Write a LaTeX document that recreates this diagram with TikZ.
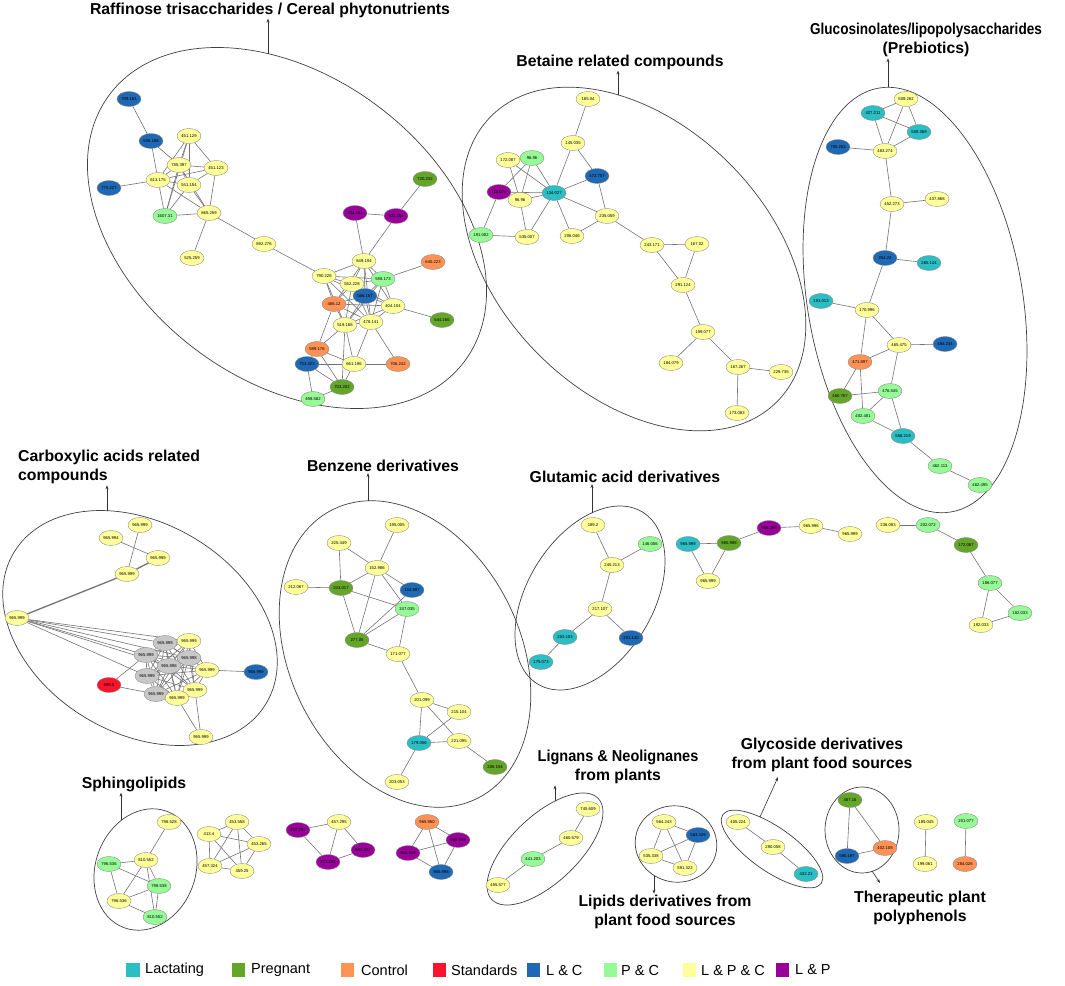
\documentclass[tikz,border=0pt]{standalone}
\usepackage{fontspec}
\setmainfont{Liberation Sans}
\usetikzlibrary{shapes.geometric,arrows.meta,backgrounds}

% 分组颜色
\definecolor{lacC}{RGB}{43,190,196}
\definecolor{pregC}{RGB}{99,166,41}
\definecolor{ctrlC}{RGB}{255,146,84}
\definecolor{stdC}{RGB}{250,20,45}
\definecolor{lcC}{RGB}{30,104,180}
\definecolor{pcC}{RGB}{150,250,150}
\definecolor{lpcC}{RGB}{255,255,153}
\definecolor{lpC}{RGB}{153,0,153}
\definecolor{gryC}{RGB}{200,200,200}

\begin{document}
\begin{tikzpicture}[x=1pt,y=-1pt,
	mol/.style={ellipse,draw=black!45,line width=0.4pt,minimum width=24pt,minimum height=15pt,inner sep=0pt,font=\fontsize{4.2}{5}\selectfont},
	lac/.style={mol,fill=lacC},
	preg/.style={mol,fill=pregC},
	ctrl/.style={mol,fill=ctrlC},
	std/.style={mol,fill=stdC},
	lc/.style={mol,fill=lcC},
	pc/.style={mol,fill=pcC},
	lpc/.style={mol,fill=lpcC},
	lp/.style={mol,fill=lpC},
	gry/.style={mol,fill=gryC},
	link/.style={draw=black!55,line width=0.6pt},
	grp/.style={draw=black!75,line width=0.7pt},
	ttl/.style={font=\fontsize{15.8}{19.5}\selectfont\bfseries,align=center,inner sep=1pt},
	toarrow/.style={-{Stealth[length=4pt,width=3pt]},line width=0.6pt,draw=black!80},
	legsq/.style={minimum size=13.5pt,inner sep=0pt},
	legtx/.style={anchor=west,font=\fontsize{14.5}{17}\selectfont,inner sep=0pt}]
	
	\useasboundingbox (0,0) rectangle (1065,985);
	
	% 分组轮廓
	\draw[grp,rotate around={-37:(287,228)}] (287,228) ellipse [x radius=222,y radius=152];
	\draw[grp,rotate around={-45:(634,259)}] (634,259) ellipse [x radius=202,y radius=135];
	\draw[grp,rotate around={-80.35:(915,300)}] (915,300) ellipse [x radius=215,y radius=107.5];
	\draw[grp,rotate around={-30.8:(140,628)}] (140,628) ellipse [x radius=147,y radius=105];
	\draw[grp,rotate around={-63.3:(405,654)}] (405,654) ellipse [x radius=161.5,y radius=115];
	\draw[grp,rotate around={58.6:(590,598)}] (590,598) ellipse [x radius=100.7,y radius=62.8];
	\draw[grp,rotate around={-20:(145.5,869.5)}] (145.5,869.5) ellipse [x radius=50,y radius=62];
	\draw[grp,rotate around={43.5:(545,849)}] (545,849) ellipse [x radius=73.4,y radius=33.4];
	\draw[grp,rotate around={-15:(676,844)}] (676,844) ellipse [x radius=41,y radius=38];
	\draw[grp,rotate around={-35:(772,849)}] (772,849) ellipse [x radius=60,y radius=22];
	\draw[grp] (862,830) ellipse [x radius=37,y radius=43];
	
	% 标题
	\node[ttl] (rafT) at (270,10) {Raffinose trisaccharides / Cereal phytonutrients};
	\node[ttl] (betT) at (620,62) {Betaine related compounds};
	\node[ttl] (gluT) at (926,40) {\scalebox{0.86}[1]{Glucosinolates/lipopolysaccharides}\\(Prebiotics)};
	\node[ttl,align=left,anchor=west] (carT) at (17,467) {Carboxylic acids related\\compounds};
	\node[ttl] (benT) at (383,466) {Benzene derivatives};
	\node[ttl] (gltT) at (625,477) {Glutamic acid derivatives};
	\node[ttl] (sphT) at (134,784) {Sphingolipids};
	\node[ttl] (ligT) at (618,767) {\scalebox{0.92}[1]{Lignans \& Neolignanes}\\from plants};
	\node[ttl] (glyT) at (822,755) {Glycoside derivatives\\from plant food sources};
	\node[ttl] (lipT) at (665,912) {Lipids derivatives from\\plant food sources};
	\node[ttl] (thrT) at (920,908) {Therapeutic plant\\polyphenols};
	
	% 箭头起点
	\coordinate (rafA) at (268,54);
	\coordinate (betA) at (618,95);
	\coordinate (gluA) at (888,87);
	\coordinate (carA) at (107,511);
	\coordinate (benA) at (368,501);
	\coordinate (gltA) at (592,513);
	\coordinate (sphA) at (121,820);
	\coordinate (ligA) at (555,801);
	\coordinate (lipA) at (654,876);
	\coordinate (glyA) at (760,817);
	\coordinate (glyB) at (778,777);
	\coordinate (thrA) at (872,871);
	\coordinate (thrB) at (880,883);
	
	\draw[toarrow] (rafA) -- (rafA |- rafT.south);
	\draw[toarrow] (betA) -- (betA |- betT.south);
	\draw[toarrow] (gluA) -- (gluA |- gluT.south);
	\draw[toarrow] (carA) -- (carA |- carT.south);
	\draw[toarrow] (benA) -- (benA |- benT.south);
	\draw[toarrow] (gltA) -- (gltA |- gltT.south);
	\draw[toarrow] (sphA) -- (sphA |- sphT.south);
	\draw[toarrow] (ligA) -- (ligA |- ligT.south);
	\draw[toarrow] (lipA) -- (lipA |- lipT.north);
	\draw[toarrow] (glyA) -- (glyB);
	\draw[toarrow] (thrA) -- (thrB);
	
	% Raffinose
	\node[lc] (r1) at (129,99) {709.181};
	\node[lc] (r2) at (151,141) {536.188};
	\node[lpc] (r3) at (189,136) {451.129};
	\node[lpc] (r4) at (179,165) {785.397};
	\node[lpc] (r5) at (216,168) {451.123};
	\node[lpc] (r6) at (158,180) {613.175};
	\node[lpc] (r7) at (189,185) {541.154};
	\node[lc] (r8) at (109,188) {775.227};
	\node[pc] (r9) at (165,216) {1607.31};
	\node[lpc] (r10) at (209,213) {865.259};
	\node[lpc] (r11) at (192,258) {525.259};
	\node[lpc] (r12) at (264,244) {892.276};
	\node[lpc] (r13) at (324,276) {790.226};
	\node[preg] (r14) at (425,179) {720.232};
	\node[lp] (r15) at (355,213) {704.851};
	\node[lp] (r16) at (396,216) {702.251};
	\node[lpc] (r17) at (364,261) {849.194};
	\node[ctrl] (r18) at (433,262) {645.223};
	\node[lpc] (r19) at (352,284) {552.228};
	\node[pc] (r20) at (383,279) {598.173};
	\node[lc] (r21) at (365,296) {566.157};
	\node[ctrl] (r22) at (334,304) {486.12};
	\node[lpc] (r23) at (393,306) {404.104};
	\node[preg] (r24) at (442,320) {544.166};
	\node[lpc] (r25) at (345,325) {519.168};
	\node[lpc] (r26) at (371,322) {478.141};
	\node[ctrl] (r27) at (317,349) {589.176};
	\node[lc] (r28) at (307,364) {703.323};
	\node[lpc] (r29) at (354,364) {661.196};
	\node[ctrl] (r30) at (398,364) {706.242};
	\node[preg] (r31) at (342,387) {703.202};
	\node[pc] (r32) at (313,399) {498.582};
	
	% Betaine
	\node[lpc] (b1) at (588,99) {185.04};
	\node[lpc] (b2) at (573,143) {145.035};
	\node[lpc] (b3) at (508,160) {172.087};
	\node[pc] (b4) at (532,158) {96.96};
	\node[lp] (b5) at (499,192) {110.076};
	\node[lpc] (b6) at (520,200) {96.96};
	\node[lac] (b7) at (554,193) {134.027};
	\node[lc] (b8) at (597,176) {472.757};
	\node[lpc] (b9) at (607,216) {235.059};
	\node[pc] (b10) at (481,235) {191.002};
	\node[lpc] (b11) at (527,237) {535.007};
	\node[lpc] (b12) at (572,236) {206.046};
	\node[lpc] (b13) at (652,245) {243.171};
	\node[lpc] (b14) at (697,244) {167.02};
	\node[lpc] (b15) at (683,285) {291.124};
	\node[lpc] (b16) at (703,332) {159.077};
	\node[lpc] (b17) at (671,363) {184.079};
	\node[lpc] (b18) at (738,367) {167.267};
	\node[lpc] (b19) at (781,372) {229.735};
	\node[lpc] (b20) at (737,413) {173.083};
	
	% Glucosinolates
	\node[lpc] (g1) at (906,99) {509.282};
	\node[lac] (g2) at (873,113) {427.211};
	\node[lac] (g3) at (919,132) {509.369};
	\node[lc] (g4) at (838,147) {705.253};
	\node[lpc] (g5) at (885,151) {483.274};
	\node[lpc] (g6) at (892,204) {452.273};
	\node[lpc] (g7) at (937,199) {437.868};
	\node[lc] (g8) at (885,258) {254.22};
	\node[lac] (g9) at (929,263) {265.144};
	\node[lac] (g10) at (821,301) {191.013};
	\node[lpc] (g11) at (867,310) {170.996};
	\node[lpc] (g12) at (899,345) {465.475};
	\node[lc] (g13) at (945,344) {484.234};
	\node[ctrl] (g14) at (860,362) {471.897};
	\node[preg] (g15) at (840,396) {460.767};
	\node[pc] (g16) at (890,391) {476.545};
	\node[pc] (g17) at (863,416) {482.481};
	\node[lac] (g18) at (903,436) {556.219};
	\node[pc] (g19) at (940,466) {462.113};
	\node[pc] (g20) at (980,485) {462.495};
	
	% Carboxylic acids
	\node[lpc] (c1) at (140,525) {965.999};
	\node[lpc] (c2) at (111,538) {965.994};
	\node[lpc] (c3) at (158,558) {965.999};
	\node[lpc] (c4) at (127,574) {965.999};
	\node[lpc] (c5) at (17,618) {965.999};
	\node[gry] (c6) at (165,643) {965.999};
	\node[lpc] (c7) at (189,641) {965.999};
	\node[gry] (c8) at (146,655) {965.999};
	\node[gry] (c9) at (189,658) {965.998};
	\node[gry] (c10) at (169,666) {965.898};
	\node[lpc] (c11) at (207,670) {965.999};
	\node[lc] (c12) at (256,672) {965.999};
	\node[gry] (c13) at (147,676) {965.999};
	\node[std] (c14) at (109,685) {999.0};
	\node[gry] (c15) at (156,694) {965.999};
	\node[lpc] (c16) at (195,690) {965.999};
	\node[lpc] (c17) at (177,698) {965.999};
	\node[lpc] (c18) at (201,737) {965.999};
	
	% Benzene
	\node[lpc] (z1) at (397,525) {195.005};
	\node[lpc] (z2) at (339,543) {225.449};
	\node[lpc] (z3) at (377,568) {152.986};
	\node[lpc] (z4) at (296,587) {212.067};
	\node[preg] (z5) at (341,588) {243.017};
	\node[lc] (z6) at (412,590) {134.997};
	\node[pc] (z7) at (407,609) {247.035};
	\node[preg] (z8) at (357,640) {277.05};
	\node[lpc] (z9) at (398,654) {171.077};
	\node[lpc] (z10) at (422,700) {201.099};
	\node[lpc] (z11) at (459,712) {215.104};
	\node[lac] (z12) at (419,743) {179.056};
	\node[lpc] (z13) at (459,741) {221.095};
	\node[preg] (z14) at (495,767) {205.104};
	\node[lpc] (z15) at (397,782) {203.053};
	
	% Glutamic
	\node[lpc] (u1) at (593,525) {189.2};
	\node[pc] (u2) at (650,544) {146.056};
	\node[lpc] (u3) at (612,565) {245.213};
	\node[lpc] (u4) at (600,609) {217.107};
	\node[lac] (u5) at (565,637) {203.103};
	\node[lc] (u6) at (631,638) {201.130};
	\node[lac] (u7) at (541,662) {175.073};
	
	% 中间小网络
	\node[lac] (m1) at (688,544) {965.999};
	\node[preg] (m2) at (729,543) {965.998};
	\node[lpc] (m3) at (708,581) {965.999};
	\node[lp] (m4) at (769,528) {965.269};
	\node[lpc] (m5) at (811,526) {965.996};
	\node[lpc] (m6) at (850,534) {965.999};
	
	\node[lpc] (n1) at (888,525) {236.083};
	\node[pc] (n2) at (928,525) {202.072};
	\node[preg] (n3) at (966,545) {172.087};
	\node[pc] (n4) at (990,583) {186.077};
	\node[pc] (n5) at (1020,613) {182.033};
	\node[lpc] (n6) at (981,625) {192.033};
	
	% Sphingolipids
	\node[lpc] (s1) at (169,822) {796.528};
	\node[lpc] (s2) at (146,860) {810.552};
	\node[pc] (s3) at (109,864) {796.536};
	\node[pc] (s4) at (159,886) {798.538};
	\node[lpc] (s5) at (119,901) {796.536};
	\node[pc] (s6) at (155,917) {810.552};
	
	\node[lpc] (f1) at (209,834) {413.4};
	\node[lpc] (f2) at (237,822) {453.558};
	\node[lpc] (f3) at (259,844) {453.265};
	\node[lpc] (f4) at (210,866) {457.324};
	\node[lpc] (f5) at (242,871) {459.25};
	
	\node[lp] (p1) at (298,830) {457.283};
	\node[lpc] (p2) at (339,822) {457.295};
	\node[lp] (p3) at (363,850) {581.332};
	\node[lp] (p4) at (328,862) {471.294};
	
	\node[ctrl] (q1) at (427,822) {965.950};
	\node[lp] (q2) at (458,840) {965.999};
	\node[lp] (q3) at (408,853) {965.939};
	\node[lc] (q4) at (441,872) {965.998};
	
	% Lignans, Lipids, Glycoside, Therapeutic
	\node[lpc] (l1) at (588,809) {745.609};
	\node[lpc] (l2) at (571,838) {460.579};
	\node[pc] (l3) at (533,859) {441.203};
	\node[lpc] (l4) at (498,885) {455.577};
	
	\node[lpc] (d1) at (664,822) {564.243};
	\node[lc] (d2) at (698,835) {563.329};
	\node[lpc] (d3) at (651,856) {535.338};
	\node[lpc] (d4) at (685,868) {591.322};
	
	\node[lpc] (y1) at (738,822) {405.224};
	\node[lpc] (y2) at (773,847) {290.058};
	\node[lac] (y3) at (806,874) {432.21};
	
	\node[preg] (t1) at (850,800) {487.16};
	\node[ctrl] (t2) at (885,848) {402.108};
	\node[lc] (t3) at (847,856) {580.197};
	
	\node[lpc] (v1) at (926,822) {185.045};
	\node[lpc] (v2) at (925,864) {199.061};
	\node[pc] (v3) at (966,821) {201.077};
	\node[ctrl] (v4) at (965,864) {284.026};
	
	% 连线
	\begin{scope}[on background layer]
		\foreach \a/\b in {r1/r2,r2/r6,r2/r4,r8/r6,r3/r4,r3/r5,r3/r7,r3/r6,r3/r9,r4/r5,r4/r6,r4/r7,r4/r9,r4/r10,
			r5/r6,r5/r7,r5/r10,r6/r7,r6/r9,r6/r10,r7/r9,r7/r10,r9/r10,r10/r11,r10/r12,r12/r13,
			r14/r16,r15/r16,r15/r17,r16/r17,r17/r13,r17/r19,r17/r20,r17/r21,r17/r22,r17/r23,r17/r26,r20/r18,
			r13/r19,r13/r20,r13/r21,r13/r22,r13/r25,r13/r26,r19/r20,r19/r21,r19/r22,r19/r23,r19/r25,r19/r26,
			r20/r21,r20/r23,r20/r25,r20/r26,r21/r22,r21/r23,r21/r25,r21/r26,r22/r23,r22/r25,r22/r26,r22/r27,
			r23/r24,r23/r25,r23/r26,r25/r26,r25/r27,r25/r29,r25/r31,r26/r29,r26/r30,r27/r28,r27/r29,r27/r31,
			r28/r29,r28/r31,r28/r32,r29/r30,r29/r31,r31/r32}
		\draw[link] (\a) -- (\b);
		
		\foreach \a/\b in {b1/b2,b2/b7,b2/b8,b3/b6,b3/b7,b4/b5,b4/b6,b4/b7,b5/b7,b5/b10,b6/b7,b6/b11,
			b7/b11,b7/b12,b7/b8,b7/b9,b8/b9,b12/b9,b10/b11,b9/b13,b13/b14,b13/b15,b14/b15,b15/b16,
			b16/b17,b16/b18,b18/b19,b18/b20}
		\draw[link] (\a) -- (\b);
		
		\foreach \a/\b in {g1/g2,g1/g3,g1/g5,g2/g3,g2/g5,g3/g5,g4/g5,g5/g6,g6/g7,g6/g8,g8/g9,g8/g11,
			g10/g11,g11/g12,g11/g14,g12/g13,g12/g14,g12/g16,g14/g15,g14/g17,g15/g16,g16/g17,g16/g18,
			g17/g18,g18/g19,g19/g20}
		\draw[link] (\a) -- (\b);
		
		\foreach \a/\b in {c1/c4,c2/c3,c14/c8,c14/c15,c11/c12,c18/c17,c18/c16,
			c5/c6,c5/c7,c5/c8,c5/c9,c5/c10,c5/c13}
		\draw[link] (\a) -- (\b);
		\draw[link,line width=1.3pt] (c3) -- (c4);
		\draw[link,line width=1.3pt] (c4) -- (c5);
		\foreach \a [count=\i] in {c6,c7,c8,c9,c10,c11,c13,c15,c16,c17}
		\foreach \b [count=\j] in {c6,c7,c8,c9,c10,c11,c13,c15,c16,c17}
		{\ifnum\j>\i \draw[link] (\a) -- (\b); \fi}
		
		\foreach \a/\b in {z1/z3,z2/z3,z2/z5,z4/z5,z5/z3,z5/z7,z5/z8,z3/z6,z3/z7,z3/z8,z8/z6,z8/z7,
			z7/z9,z8/z9,z9/z10,z10/z11,z10/z12,z10/z13,z11/z12,z12/z13,z13/z14,z12/z15}
		\draw[link] (\a) -- (\b);
		
		\foreach \a/\b in {u1/u3,u2/u3,u3/u4,u4/u5,u4/u6,u5/u7,
			m1/m2,m1/m3,m2/m3,m2/m4,m4/m5,m5/m6,
			n1/n2,n2/n3,n3/n4,n4/n5,n4/n6,n5/n6}
		\draw[link] (\a) -- (\b);
		
		\foreach \a/\b in {s1/s2,s2/s3,s2/s4,s2/s5,s2/s6,s3/s5,s3/s4,s4/s5,s4/s6,s5/s6,
			f1/f2,f1/f3,f1/f4,f1/f5,f2/f3,f2/f4,f2/f5,f3/f4,f3/f5,f4/f5,
			p1/p2,p1/p4,p2/p4,p2/p3,p4/p3,
			q1/q2,q1/q3,q1/q4,q3/q2,q3/q4,q2/q4}
		\draw[link] (\a) -- (\b);
		
		\foreach \a/\b in {l1/l2,l2/l3,l3/l4,
			d1/d2,d1/d3,d1/d4,d2/d3,d2/d4,d3/d4,
			y1/y2,y2/y3,
			t1/t3,t1/t2,t3/t2,
			v1/v2,v3/v4}
		\draw[link] (\a) -- (\b);
	\end{scope}
	
	% 图例
	\node[legsq,fill=lacC] (kLac) at (133,970) {};
	\node[legtx] (tLac) at (145,970) {Lactating};
	\node[legsq,fill=pregC] (kPreg) at (238.5,970) {};
	\node[legtx] (tPreg) at (251,970) {Pregnant};
	\node[legsq,fill=ctrlC] (kCtrl) at (347.5,970) {};
	\node[legtx] (tCtrl) at (361,970) {Control};
	\node[legsq,fill=stdC] (kStd) at (439.5,970) {};
	\node[legtx] (tStd) at (451,970) {Standards};
	\node[legsq,fill=lcC] (kLC) at (533.5,970) {};
	\node[legtx] (tLC) at (546,970) {L \& C};
	\node[legsq,fill=pcC] (kPC) at (610.5,970) {};
	\node[legtx] (tPC) at (621,970) {P \& C};
	\node[legsq,fill=lpcC] (kLPC) at (689.5,970) {};
	\node[legtx] (tLPC) at (701,970) {L \& P \& C};
	\node[legsq,fill=lpC] (kLP) at (782.5,970) {};
	\node[legtx] (tLP) at (795,970) {L \& P};
	
\end{tikzpicture}
\end{document}
